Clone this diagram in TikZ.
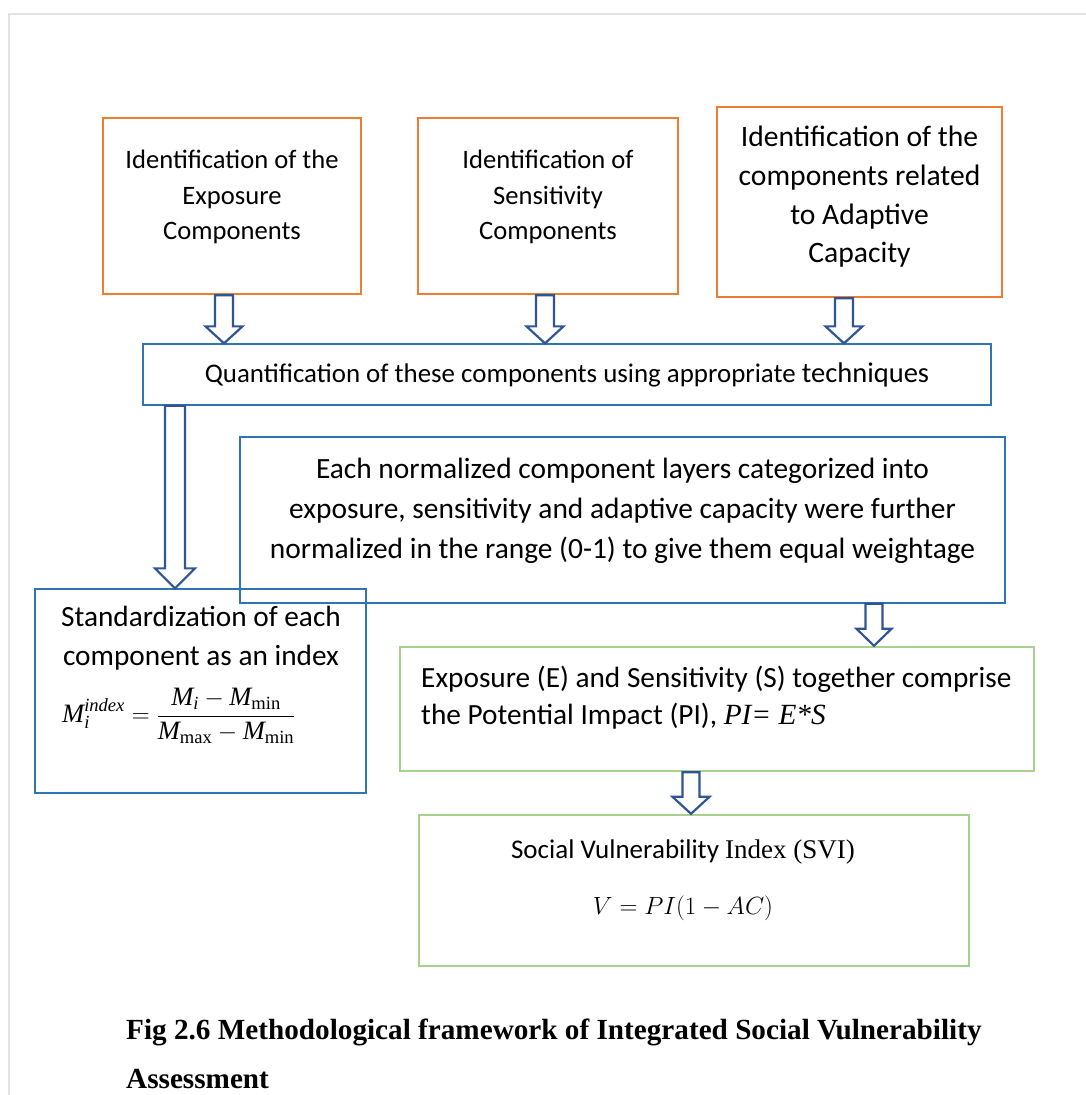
\documentclass[tikz,border=0pt]{standalone}
\usepackage{fontspec}
\usepackage{amsmath}
\setmainfont{Carlito}
\newfontfamily\tnr{Liberation Serif}
\usetikzlibrary{calc}

\definecolor{boxorange}{HTML}{ED7D31}
\definecolor{boxblue}{HTML}{2E75B6}
\definecolor{boxgreen}{HTML}{A9D18E}
\definecolor{arrowblue}{HTML}{2F5597}
\definecolor{framegray}{HTML}{E3E3E3}

% Times-style symbols for the formulas
\newcommand\tmi[1]{\text{\tnr\itshape #1}}
\newcommand\tmr[1]{\text{\tnr #1}}

% hollow block arrow: x position, source node, target node,
% shaft half-width, head half-width, head length
\newcommand\blockarrow[6]{%
  \draw[blockarr] let \p1=(#1,0 |- #2.south), \p2=(#1,0 |- #3.north) in
    (\x1-#4,\y1) -- (\x1-#4,\y2+#6) -- (\x1-#5,\y2+#6) -- (\x1,\y2)
    -- (\x1+#5,\y2+#6) -- (\x1+#4,\y2+#6) -- (\x1+#4,\y1) -- cycle;}

\begin{document}
\begin{tikzpicture}[x=1pt, y=-1pt,
  obox/.style={draw=boxorange, line width=2.4pt, inner sep=0},
  bbox/.style={draw=boxblue, line width=1.3pt, inner sep=0},
  gbox/.style={draw=boxgreen, line width=2.4pt, inner sep=0},
  txt/.style={align=center, inner sep=0},
  blockarr/.style={draw=arrowblue, line width=2.2pt, fill=white, line join=miter},
]
\useasboundingbox (0,0) rectangle (1086,1095);

% page frame
\draw[framegray, line width=1.5pt] (9,1095) -- (9,14) -- (1086,14);

% identification boxes
\node[obox, minimum width=258, minimum height=176] (expo) at (232,206) {};
\node[txt, font=\fontsize{26.6}{35.5}\selectfont] (expot) at (232,197)
  {Identification of the\\Exposure\\Components};

\node[obox, minimum width=260, minimum height=176] (sens) at (548,206) {};
\node[txt, font=\fontsize{26.6}{35.5}\selectfont] (senst) at (548,197)
  {Identification of\\Sensitivity\\Components};

\node[obox, minimum width=285, minimum height=190] (adap) at (859.5,202) {};
\node[txt, font=\fontsize{29.6}{38.7}\selectfont] (adapt) at (859.5,197)
  {Identification of the\\components related\\to Adaptive\\Capacity};

% quantification
\node[bbox, minimum width=848, minimum height=61] (quant) at (567,374.5) {};
\node[txt, font=\fontsize{26.9}{30}\selectfont] (quantt) at (567,375)
  {Quantification of these components using appropriate {\fontsize{28.5}{30}\selectfont techniques}};

% normalization
\node[bbox, minimum width=765, minimum height=166] (norm) at (622.5,520) {};
\node[txt, font=\fontsize{29.4}{40}\selectfont] (normt) at (622.5,511)
  {Each normalized component layers categorized into\\exposure, sensitivity and adaptive capacity were further\\normalized in the range (0-1) to give them equal weightage};

% standardization
\node[bbox, minimum width=331, minimum height=204] (std) at (200.5,691) {};
\node[txt, font=\fontsize{29.3}{39}\selectfont] (stdt) at (201,638)
  {Standardization of each\\component as an index};
\node[inner sep=0, anchor=west, font=\fontsize{26.5}{30}\selectfont] (stdf) at (62,716)
  {$\tmi{M}_{\tmi{i}}^{\tmi{index}} = \dfrac{\tmi{M}_{\tmi{i}} - \tmi{M}_{\tmr{min}}}{\tmi{M}_{\tmr{max}} - \tmi{M}_{\tmr{min}}}$};

% potential impact
\node[gbox, minimum width=634, minimum height=124] (pimp) at (717,709) {};
\node[inner sep=0, align=left, anchor=west, font=\fontsize{29.3}{37}\selectfont] (pimpt) at (421,698)
  {Exposure (E) and Sensitivity (S) together comprise\\the Potential Impact (PI), {\tnr\itshape PI= E*S}};

% social vulnerability index
\node[gbox, minimum width=550, minimum height=151] (svi) at (694,890.5) {};
\node[txt, font=\fontsize{27}{30}\selectfont] (svit) at (683,852)
  {Social Vulnerability {\tnr Index (SVI)}};
\node[txt, font=\fontsize{24}{28}\selectfont] (svif) at (683,908)
  {$V = PI(1 - AC)$};

% arrows
\blockarrow{224}{expo}{quant}{9pt}{18.5pt}{17pt}
\blockarrow{545}{sens}{quant}{9pt}{18.5pt}{17pt}
\blockarrow{844}{adap}{quant}{9pt}{18.5pt}{17pt}
\blockarrow{175}{quant}{std}{10pt}{20pt}{20pt}
\blockarrow{874}{norm}{pimp}{8.5pt}{17.5pt}{17pt}
\blockarrow{691}{pimp}{svi}{8.5pt}{18.5pt}{17pt}

% caption
\node[inner sep=0, align=left, anchor=north west,
      font=\tnr\bfseries\fontsize{29.2}{49}\selectfont] (cap) at (126,1019)
  {Fig 2.6 Methodological framework of Integrated Social Vulnerability\\Assessment};
\end{tikzpicture}
\end{document}
